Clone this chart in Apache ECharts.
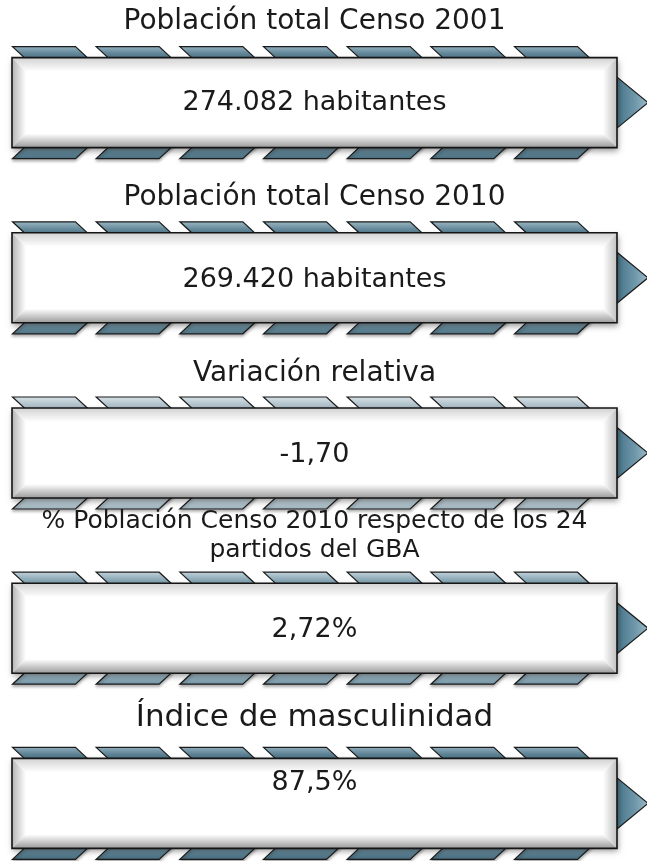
<!DOCTYPE html>
<html>
<head>
<meta charset="utf-8">
<script src="https://cdn.jsdelivr.net/npm/echarts@6/dist/echarts.min.js"></script>
<style>
  html, body { margin: 0; padding: 0; background: #fff; }
  #main { width: 647px; height: 861px; }
</style>
</head>
<body>
<div id="main"></div>
<script>
// textos de cada bloque
var titles = [
  'Población total Censo 2001',
  'Población total Censo 2010',
  'Variación relativa',
  '% Población Censo 2010 respecto de los 24\npartidos del GBA',
  'Índice de masculinidad'
];
var values = ['274.082 habitantes', '269.420 habitantes', '-1,70', '2,72%', '87,5%'];

// estilo por bloque (no son datos)
var titleSize = [28, 28, 28, 25, 31];
var titleDy = [36, 35, 34, 47, 40];
var valueDy = [0, 2, 2, 2, -20];
var tabTone = [
  ['#97b3c0', '#5f8597', '#4a6f80'],
  ['#9fb9c5', '#668b9c', '#4e7384'],
  ['#d9e2e7', '#b4c5ce', '#9fb3be'],
  ['#c3d3db', '#8eabb9', '#7496a6'],
  ['#93afbd', '#5b8294', '#46697a']
];

var chart = echarts.init(document.getElementById('main'), null, { renderer: 'canvas' });

function vgrad(c) {
  return new echarts.graphic.LinearGradient(0, 0, 0, 1, [
    { offset: 0, color: c[0] }, { offset: 0.55, color: c[1] }, { offset: 1, color: c[2] }
  ]);
}

function renderItem(params, api) {
  var idx = api.value(1);
  var c0 = api.coord([0, idx]);
  var c1 = api.coord([1, idx]);
  var x0 = c0[0], x1 = c1[0], cy = c0[1];
  var h = 90;
  var top = cy - h / 2, bottom = cy + h / 2;
  var per = (x1 - x0) * 0.1383, w = 63, sk = 14, th = 11;
  var kids = [];

  // pestañas superiores e inferiores
  for (var i = 0; i < 7; i++) {
    var l = x0 + 0.5 + i * per;
    kids.push({
      type: 'polygon',
      shape: { points: [[l, top - th], [l + w, top - th], [l + w + sk, top + 2], [l + sk, top + 2]] },
      style: { fill: vgrad(tabTone[idx]), stroke: '#1b1b1b', lineWidth: 1.2 }
    });
    kids.push({
      type: 'polygon',
      shape: { points: [[l + sk, bottom - 2], [l + w + sk, bottom - 2], [l + w, bottom + th], [l, bottom + th]] },
      style: {
        fill: vgrad(tabTone[idx]), stroke: '#1b1b1b', lineWidth: 1.2,
        shadowBlur: 3, shadowOffsetY: 2, shadowColor: 'rgba(0,0,0,0.3)'
      }
    });
  }

  // flecha
  kids.push({
    type: 'polygon',
    shape: { points: [[x1 - 3, cy - 28], [x1 + 31, cy], [x1 - 3, cy + 28]] },
    style: {
      fill: new echarts.graphic.LinearGradient(0, 0, 1, 0, [
        { offset: 0, color: '#426f85' }, { offset: 0.6, color: '#6d96a9' }, { offset: 1, color: '#9dbac8' }
      ]),
      stroke: '#1b1b1b', lineWidth: 1.2
    }
  });

  // caja blanca
  kids.push({
    type: 'rect',
    shape: { x: x0, y: top, width: x1 - x0, height: h },
    style: {
      fill: '#fff', shadowBlur: 6, shadowOffsetX: 1, shadowOffsetY: 3, shadowColor: 'rgba(0,0,0,0.4)'
    }
  });
  var b = 14;
  kids.push({
    type: 'polygon',
    shape: { points: [[x0, top], [x0 + b, top + b], [x0 + b, bottom - b], [x0, bottom]] },
    style: { fill: new echarts.graphic.LinearGradient(0, 0, 1, 0, [{ offset: 0, color: '#b5b5b5' }, { offset: 1, color: '#ffffff' }]) }
  });
  kids.push({
    type: 'polygon',
    shape: { points: [[x1, top], [x1 - b, top + b], [x1 - b, bottom - b], [x1, bottom]] },
    style: { fill: new echarts.graphic.LinearGradient(0, 0, 1, 0, [{ offset: 0, color: '#ffffff' }, { offset: 1, color: '#c0c0c0' }]) }
  });
  kids.push({
    type: 'polygon',
    shape: { points: [[x0, top], [x1, top], [x1 - b, top + b], [x0 + b, top + b]] },
    style: { fill: new echarts.graphic.LinearGradient(0, 0, 0, 1, [{ offset: 0, color: '#d2d2d2' }, { offset: 1, color: '#ffffff' }]) }
  });
  kids.push({
    type: 'polygon',
    shape: { points: [[x0, bottom], [x1, bottom], [x1 - b, bottom - b], [x0 + b, bottom - b]] },
    style: { fill: new echarts.graphic.LinearGradient(0, 0, 0, 1, [{ offset: 0, color: '#ffffff' }, { offset: 1, color: '#9a9a9a' }]) }
  });
  kids.push({
    type: 'rect',
    shape: { x: x0, y: top, width: x1 - x0, height: h },
    style: { fill: null, stroke: '#151515', lineWidth: 1.6 }
  });

  // textos
  kids.push({
    type: 'text',
    style: {
      text: titles[idx], x: (x0 + x1) / 2, y: top - titleDy[idx],
      align: 'center', verticalAlign: 'middle',
      font: titleSize[idx] + 'px "DejaVu Sans"', lineHeight: 29, fill: '#1a1a1a'
    }
  });
  kids.push({
    type: 'text',
    style: {
      text: values[idx], x: (x0 + x1) / 2, y: cy + valueDy[idx],
      align: 'center', verticalAlign: 'middle',
      font: '27px "DejaVu Sans"', fill: '#1a1a1a'
    }
  });

  return { type: 'group', children: kids };
}

var option = {
  backgroundColor: '#fff',
  animation: false,
  grid: { left: 12, right: 30, top: 15, height: 876, outerBoundsMode: 'none' },
  xAxis: { type: 'value', min: 0, max: 1, show: false },
  yAxis: { type: 'category', data: titles, inverse: true, show: false },
  series: [{
    type: 'custom',
    renderItem: renderItem,
    encode: { x: 0, y: 1 },
    data: titles.map(function (t, i) { return [0, i]; })
  }]
};

chart.setOption(option);
</script>
</body>
</html>
